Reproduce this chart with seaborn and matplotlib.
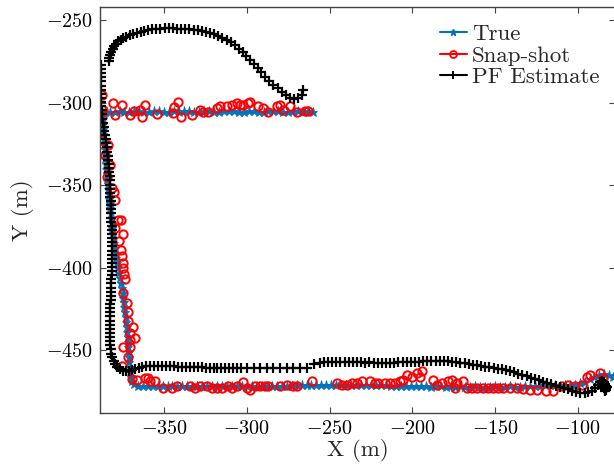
import matplotlib
matplotlib.use("Agg")
import matplotlib.pyplot as plt
from matplotlib.lines import Line2D
import seaborn as sns

# ---------------- data (x, y) in metres ----------------
true_top = [(-260, -305.3), (-263, -305.1), (-266, -305.4), (-269, -305.2), (-272, -305.0),
            (-275, -305.3), (-278, -305.5), (-281, -305.2), (-284, -304.9), (-287, -305.1),
            (-290, -305.4), (-293, -305.3), (-296, -305.0), (-299, -305.2), (-302, -305.5),
            (-305, -305.3), (-308, -305.1), (-311, -304.9), (-314, -305.2), (-317, -305.4),
            (-320, -305.3), (-323, -305.0), (-326, -305.2), (-329, -305.5), (-332, -305.3),
            (-335, -305.1), (-338, -305.2), (-341, -305.4), (-344, -305.0), (-347, -305.3),
            (-350, -305.5), (-353, -305.2), (-356, -305.1), (-359, -305.3), (-362, -305.4),
            (-365, -305.2), (-368, -305.0), (-371, -305.3), (-374, -305.5), (-377, -305.2),
            (-380, -305.4), (-383, -305.6), (-385.5, -305.8)]
true_side = [(-386.5, -307), (-387.0, -310), (-387.0, -313), (-387.0, -316), (-386.8, -319),
             (-386.5, -322), (-386.3, -325), (-386.0, -328), (-385.8, -331), (-385.5, -334),
             (-385.3, -337), (-385.0, -340), (-384.8, -343), (-384.5, -346), (-384.2, -349),
             (-384.0, -352), (-383.6, -355), (-383.3, -358), (-383.0, -361), (-382.6, -364),
             (-382.3, -367), (-382.0, -370), (-381.7, -373), (-381.4, -376), (-381.0, -379),
             (-380.6, -382), (-380.2, -385), (-379.8, -388), (-379.4, -391), (-379.0, -394),
             (-378.4, -397), (-377.8, -400), (-377.2, -403), (-376.6, -406), (-376.0, -409),
             (-375.6, -412), (-375.2, -415), (-374.8, -418), (-374.4, -421), (-374.0, -424),
             (-373.6, -427), (-373.2, -430), (-372.9, -433), (-372.6, -436), (-372.3, -439),
             (-372.0, -442), (-371.8, -445), (-371.6, -448), (-371.4, -451), (-371.2, -454),
             (-371.0, -457), (-370.8, -460), (-370.5, -463), (-370.2, -466), (-369.5, -468.5),
             (-368.0, -470.5)]
true_bottom = [(-366, -471.4), (-363, -471.6), (-360, -471.5), (-357, -471.7), (-354, -471.6),
               (-351, -471.8), (-348, -471.7), (-345, -471.5), (-342, -471.6), (-339, -471.8),
               (-336, -471.7), (-333, -471.9), (-330, -471.8), (-327, -471.6), (-324, -471.7),
               (-321, -471.9), (-318, -471.8), (-315, -471.6), (-312, -471.7), (-309, -471.8),
               (-306, -471.9), (-303, -471.7), (-300, -471.8), (-297, -471.6), (-294, -471.7),
               (-291, -471.9), (-288, -471.8), (-285, -471.6), (-282, -471.7), (-279, -471.5),
               (-276, -471.6), (-273, -471.4), (-270, -471.3), (-267, -471.2), (-264, -471.0),
               (-261, -471.1), (-258, -471.0), (-255, -470.9), (-252, -471.1), (-249, -471.0),
               (-246, -470.8), (-243, -471.0), (-240, -471.1), (-237, -470.9), (-234, -471.0),
               (-231, -470.8), (-228, -471.0), (-225, -471.1), (-222, -471.2), (-219, -471.0),
               (-216, -471.3), (-213, -471.4), (-210, -471.6), (-207, -471.5), (-204, -471.7),
               (-201, -471.6), (-198, -471.8), (-195, -471.7), (-192, -471.9), (-189, -472.0),
               (-186, -471.8), (-183, -471.9), (-180, -472.1), (-177, -471.9), (-174, -472.0),
               (-171, -471.8), (-168, -472.0), (-165, -472.1), (-162, -471.9), (-159, -472.0),
               (-156, -472.2), (-153, -472.0), (-150, -471.9), (-147, -472.1), (-144, -472.0),
               (-141, -471.8), (-138, -472.0), (-135, -472.1), (-132, -471.9), (-129, -471.7),
               (-126, -471.8), (-123, -471.5), (-120, -471.3), (-117, -471.0), (-114, -471.2),
               (-111, -471.4), (-108, -471.3), (-105, -471.2), (-102, -471.0), (-99, -470.0),
               (-96, -469.0), (-93, -467.5), (-90, -466.0), (-87, -465.0), (-84, -464.5),
               (-81, -465.0), (-79, -466.0)]

snap_top = [(-263.0, -304.7), (-265.0, -304.7), (-270.0, -305.3), (-274.0, -302.2), (-278.1, -304.2),
            (-280.1, -301.2), (-282.1, -302.2), (-287.1, -305.3), (-290.2, -303.2), (-293.2, -302.2),
            (-298.2, -299.2), (-299.6, -300.2), (-302.2, -301.2), (-304.2, -301.2), (-306.2, -300.2),
            (-309.2, -301.2), (-312.3, -302.2), (-316.3, -302.2), (-318.3, -303.2), (-323.4, -305.3),
            (-326.4, -305.3), (-328.4, -304.2), (-333.4, -307.3), (-339.9, -308.3), (-341.5, -299.2),
            (-343.9, -302.6), (-344.5, -306.3), (-354.6, -306.7), (-361.6, -301.2), (-363.6, -308.7),
            (-364.7, -304.2), (-368.1, -304.7), (-370.7, -307.3), (-375.3, -301.2), (-379.8, -307.3),
            (-380.8, -300.2), (-386.8, -304.2), (-388.2, -306.3), (-387.8, -295.2)]
snap_side = [(-387.8, -322.4), (-383.8, -325.5), (-385.8, -331.5), (-382.8, -337.6), (-384.8, -344.7),
             (-381.8, -351.7), (-380.3, -354.0), (-379.8, -358.8), (-377.8, -370.9), (-375.9, -371.0),
             (-379.5, -375.8), (-374.7, -379.5), (-377.5, -383.5), (-376.3, -389.1), (-375.8, -393.0),
             (-374.7, -397.2), (-375.2, -400.0), (-374.5, -403.5), (-373.7, -407.0), (-374.7, -415.3),
             (-372.7, -421.4), (-371.9, -426.5), (-371.9, -432.5), (-368.7, -435.8), (-370.7, -439.6),
             (-367.7, -442.6), (-370.5, -444.0), (-375.2, -447.7), (-370.7, -447.7), (-371.7, -454.2),
             (-375.7, -459.4), (-369.7, -467.3), (-366.6, -467.9)]
snap_bottom = [(-361.6, -466.8), (-359.6, -466.8), (-358.6, -468.9), (-355.6, -468.9), (-350.6, -472.9),
               (-345.5, -472.9), (-342.5, -471.9), (-334.4, -471.9), (-331.4, -472.9), (-328.4, -471.9),
               (-324.4, -471.9), (-321.3, -472.9), (-318.3, -472.9), (-315.3, -472.9), (-311.3, -471.9),
               (-309.2, -472.9), (-306.2, -471.9), (-302.2, -469.5), (-300.2, -472.9), (-298.2, -473.9),
               (-295.2, -471.9), (-292.1, -471.9), (-289.1, -471.9), (-287.1, -471.9), (-280.1, -471.9),
               (-276.0, -470.9), (-272.0, -471.9), (-270.0, -471.9), (-260.9, -468.9), (-245.8, -469.9),
               (-242.8, -470.9), (-239.8, -470.9), (-236.7, -469.9), (-233.7, -469.9), (-230.7, -468.9),
               (-225.7, -468.9), (-222.7, -469.9), (-220.7, -469.9), (-216.6, -469.9), (-213.6, -469.9),
               (-210.6, -469.9), (-207.6, -468.9), (-205.6, -467.9), (-203.5, -464.8), (-200.5, -465.9),
               (-197.5, -463.8), (-194.4, -462.8), (-195.5, -465.9), (-187.4, -467.9), (-185.4, -470.9),
               (-182.4, -469.9), (-178.3, -468.9), (-176.3, -467.9), (-173.3, -469.9), (-174.3, -472.9),
               (-169.3, -468.9), (-167.2, -472.9), (-164.2, -472.9), (-161.2, -472.9), (-157.2, -472.9),
               (-154.2, -472.9), (-151.2, -472.9), (-148.2, -472.9), (-145.1, -472.9), (-141.1, -472.9),
               (-137.1, -472.9), (-133.1, -473.5), (-129.0, -473.9), (-125.0, -473.9), (-119.0, -474.9),
               (-115.0, -474.9), (-109.9, -471.9), (-105.9, -470.9), (-101.8, -471.9), (-97.8, -470.9),
               (-94.7, -466.0), (-92.8, -464.8), (-86.7, -463.8), (-84.7, -466.8)]

pf_arc = [(-266.0, -292.5), (-267.0, -295.2), (-269.0, -297.2), (-271.5, -297.5), (-274.0, -297.0),
          (-276.5, -295.5), (-279.0, -293.5), (-281.5, -291.3), (-284.0, -289.0), (-286.5, -286.8),
          (-289.0, -284.3), (-291.3, -281.5), (-293.5, -278.8), (-295.8, -276.2), (-298.0, -273.8),
          (-300.3, -271.5), (-302.6, -269.3), (-305.0, -267.2), (-307.4, -265.2), (-309.8, -263.4),
          (-312.3, -261.8), (-314.8, -260.4), (-317.3, -259.2), (-319.8, -258.2), (-322.3, -257.4),
          (-324.8, -256.8), (-327.3, -256.3), (-329.8, -255.9), (-332.3, -255.6), (-334.8, -255.4),
          (-337.3, -255.2), (-339.8, -255.1), (-342.3, -255.0), (-344.8, -254.9), (-347.3, -254.9),
          (-349.8, -254.9), (-352.3, -255.0), (-354.8, -255.1), (-357.3, -255.3), (-359.7, -255.7),
          (-362.0, -256.2), (-364.3, -256.8), (-366.5, -257.5), (-368.7, -258.2), (-370.8, -259.0),
          (-372.8, -259.8), (-374.7, -260.7), (-376.4, -261.7), (-377.9, -262.8), (-379.2, -264.1),
          (-380.3, -265.6), (-381.2, -267.2), (-382.0, -269.0), (-382.6, -270.9), (-383.1, -272.8),
          (-383.5, -274.5)]
pf_side = [(-388.3, -277.0), (-388.3, -279.5), (-388.2, -282.0), (-388.2, -284.5), (-388.2, -287.0),
           (-388.1, -289.5), (-388.1, -292.0), (-388.0, -294.5), (-388.0, -297.0), (-388.0, -299.5),
           (-387.9, -302.0), (-387.8, -304.5), (-387.6, -307.0), (-387.3, -309.5), (-387.0, -312.0),
           (-386.6, -314.5), (-386.2, -317.0), (-385.8, -319.5), (-385.4, -322.0), (-385.0, -324.5),
           (-384.6, -327.0), (-384.3, -329.5), (-384.0, -332.0), (-383.8, -334.5), (-383.6, -337.0),
           (-383.4, -339.5), (-383.2, -342.0), (-383.0, -344.5), (-382.9, -347.0), (-382.8, -349.5),
           (-382.7, -352.0), (-382.6, -354.5), (-382.5, -357.0), (-382.4, -359.5), (-382.3, -362.0),
           (-382.2, -364.5), (-382.1, -367.0), (-382.0, -369.5), (-381.9, -372.0), (-381.8, -374.5),
           (-381.7, -377.0), (-381.6, -379.5), (-381.5, -382.0), (-381.4, -384.5), (-381.3, -387.0),
           (-381.3, -389.5), (-381.3, -392.0), (-381.4, -394.5), (-381.5, -397.0), (-381.6, -399.5),
           (-381.7, -402.0), (-381.8, -404.5), (-381.9, -407.0), (-382.0, -409.5), (-382.1, -412.0),
           (-382.2, -414.5), (-382.3, -417.0), (-382.4, -419.5), (-382.5, -422.0), (-382.6, -424.5),
           (-382.7, -427.0), (-382.8, -429.5), (-382.9, -432.0), (-383.0, -434.5), (-383.0, -437.0),
           (-383.0, -439.5), (-382.9, -442.0), (-382.8, -444.5), (-382.6, -447.0), (-382.3, -449.5),
           (-381.9, -452.0), (-381.3, -454.3), (-380.5, -456.5), (-379.5, -458.5), (-378.3, -460.2),
           (-376.8, -461.5), (-375.0, -462.4), (-373.2, -462.8), (-371.3, -462.6), (-369.4, -462.0),
           (-367.5, -461.3), (-365.5, -460.6), (-363.3, -460.1), (-361.0, -459.8), (-358.6, -459.6),
           (-356.2, -459.5), (-353.8, -459.5)]
pf_bottom = [(-351.4, -459.6), (-349.0, -459.7), (-346.6, -459.8), (-344.2, -459.8), (-341.8, -459.9),
             (-339.4, -460.0), (-337.0, -460.1), (-334.6, -460.2), (-332.2, -460.2), (-329.8, -460.3),
             (-327.4, -460.4), (-325.0, -460.5), (-322.6, -460.5), (-320.2, -460.6), (-317.8, -460.6),
             (-315.4, -460.7), (-313.0, -460.7), (-310.6, -460.8), (-308.2, -460.8), (-305.8, -460.8),
             (-303.4, -460.9), (-300.0, -460.9), (-296.0, -461.0), (-292.0, -461.0), (-288.0, -461.0),
             (-284.0, -461.0), (-280.0, -460.9), (-276.0, -460.9), (-272.0, -460.8), (-268.0, -460.7),
             (-264.0, -460.5), (-259.5, -458.5), (-256.0, -457.4), (-253.5, -457.1), (-251.0, -457.0),
             (-248.5, -457.1), (-246.0, -457.2), (-243.5, -457.1), (-241.0, -457.2), (-238.5, -457.3),
             (-236.0, -457.2), (-233.5, -457.3), (-231.0, -457.3), (-228.5, -457.4), (-226.0, -457.3),
             (-223.5, -457.4), (-221.0, -457.4), (-218.5, -457.5), (-216.0, -457.4), (-213.5, -457.5),
             (-211.0, -457.4), (-208.5, -457.3), (-206.0, -457.2), (-203.5, -457.1), (-201.0, -457.0),
             (-198.5, -456.9), (-196.0, -456.8), (-193.5, -456.7), (-191.0, -456.6), (-188.5, -456.5),
             (-186.0, -456.5), (-183.5, -456.5), (-181.0, -456.6), (-178.5, -456.7), (-176.0, -456.9),
             (-173.5, -457.1), (-171.0, -457.4), (-168.5, -457.8), (-166.0, -458.3), (-163.5, -458.7),
             (-161.0, -459.1), (-158.5, -459.5), (-156.0, -459.9), (-153.5, -460.3), (-151.0, -460.7),
             (-148.5, -461.1), (-146.0, -461.6), (-143.5, -462.1), (-141.0, -462.7), (-138.5, -463.4),
             (-136.0, -464.2), (-133.5, -465.0), (-131.0, -465.8), (-128.5, -466.6), (-126.0, -467.4),
             (-123.5, -468.2), (-121.0, -469.0), (-118.5, -469.8), (-116.0, -470.6), (-113.5, -471.4),
             (-111.0, -472.2), (-108.5, -473.0), (-106.0, -473.7), (-103.5, -474.4), (-101.0, -475.0),
             (-98.5, -475.6), (-96.0, -475.9), (-93.8, -475.4), (-91.8, -474.4), (-89.8, -472.8),
             (-88.0, -471.0), (-86.5, -469.5), (-85.2, -468.6), (-84.3, -469.4), (-83.8, -470.5),
             (-83.4, -471.6), (-83.0, -472.7), (-83.6, -473.8), (-82.8, -471.9), (-83.3, -473.0),
             (-82.6, -472.2), (-83.9, -474.4), (-82.9, -474.0), (-84.2, -472.8)]

x_ticks = [-350, -300, -250, -200, -150, -100]
y_ticks = [-450, -400, -350, -300, -250]
x_label = "X (m)"
y_label = "Y (m)"
series_names = ["True", "Snap-shot", "PF Estimate"]

true_pts = true_top + true_side + true_bottom
snap_pts = snap_top + snap_side + snap_bottom
pf_pts = pf_arc + pf_side + pf_bottom
true_x = [p[0] for p in true_pts]; true_y = [p[1] for p in true_pts]
snap_x = [p[0] for p in snap_pts]; snap_y = [p[1] for p in snap_pts]
pf_x = [p[0] for p in pf_pts]; pf_y = [p[1] for p in pf_pts]

# ---------------- style ----------------
sns.set_theme(style="ticks")
plt.rcParams["font.family"] = ["cmr10", "DejaVu Serif"]
plt.rcParams["mathtext.fontset"] = "cm"
plt.rcParams["axes.formatter.use_mathtext"] = True
plt.rcParams["axes.unicode_minus"] = True

c_true = "#0072BD"
c_snap = "#FF0000"
c_pf = "#000000"

W, H = 614, 468
fig = plt.figure(figsize=(W / 100, H / 100), dpi=100)
ax = fig.add_axes([100 / W, 1 - 413 / H, 515 / W, 406 / H])

sns.lineplot(x=true_x, y=true_y, sort=False, estimator=None, ax=ax, linestyle="none",
             marker="*", markersize=6.5, color=c_true, markeredgecolor=c_true,
             markerfacecolor=c_true, markeredgewidth=0.6)
sns.lineplot(x=snap_x, y=snap_y, sort=False, estimator=None, ax=ax, linestyle="none",
             marker="o", markersize=6, color=c_snap, markeredgecolor=c_snap,
             markerfacecolor="none", markeredgewidth=1.4)
sns.lineplot(x=pf_x, y=pf_y, sort=False, estimator=None, ax=ax, linestyle="none",
             marker="+", markersize=6.5, color=c_pf, markeredgecolor=c_pf,
             markeredgewidth=1.6)

ax.set_xlim(-388.8, -77.6)
ax.set_ylim(-488.0, -241.9)
ax.set_xticks(x_ticks)
ax.set_yticks(y_ticks)
ax.set_xlabel(x_label, fontsize=16.5, labelpad=1)
ax.set_ylabel(y_label, fontsize=16.5, labelpad=9)
ax.tick_params(direction="in", top=True, right=True, length=4.5, width=0.8,
               colors="#444444", labelcolor="black", labelsize=14.5, pad=5)
for s in ax.spines.values():
    s.set_color("#444444")
    s.set_linewidth(1.0)
    s.set_visible(True)

handles = [
    Line2D([0], [0], color=c_true, lw=1.5, marker="*", markersize=5, mec=c_true, mfc=c_true),
    Line2D([0], [0], color=c_snap, lw=1.5, marker="o", markersize=5, mec=c_snap, mfc="none", mew=1.3),
    Line2D([0], [0], color=c_pf, lw=1.5, marker="+", markersize=6, mec=c_pf, mew=1.4),
]
ax.legend(handles, series_names, loc="upper left", bbox_to_anchor=(0.66, 0.959),
          frameon=False, fontsize=16.5, handlelength=1.18, handletextpad=0.22,
          labelspacing=0.08, borderpad=0, borderaxespad=0)

fig.savefig("out.png", dpi=100)
